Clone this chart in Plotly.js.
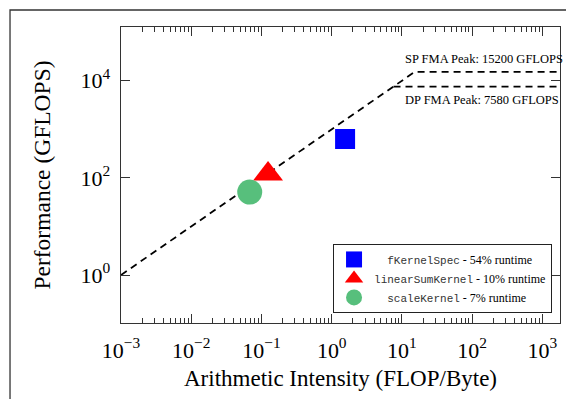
<!DOCTYPE html>
<html>
<head>
<meta charset="utf-8">
<script src="https://cdn.plot.ly/plotly-3.0.1.min.js"></script>
<style>html,body{margin:0;padding:0;background:#fff;}#chart{width:566px;height:399px;}</style>
</head>
<body>
<div id="chart"></div>
<script>
// ---- data ----
const kernelNames = ["fKernelSpec", "linearSumKernel", "scaleKernel"];
const runtimeShare = ["54%", "10%", "7%"];
const intensity = [1.55, 0.124, 0.068];        // FLOP/Byte
const performance = [630, 120, 51];            // GFLOPS
const memBandwidth = 1000;                     // GB/s (roofline slope)
const spPeak = 15200;                          // GFLOPS
const dpPeak = 7580;                           // GFLOPS
const xTickVals = [1e-3, 1e-2, 1e-1, 1e0, 1e1, 1e2, 1e3];
const xTickText = ["10<sup>−3</sup>", "10<sup>−2</sup>", "10<sup>−1</sup>", "10<sup>0</sup>", "10<sup>1</sup>", "10<sup>2</sup>", "10<sup>3</sup>"];
const yTickVals = [1e0, 1e2, 1e4];
const yTickText = ["10<sup>0</sup>", "10<sup>2</sup>", "10<sup>4</sup>"];

// ---- styles ----
const xRangeLog = [-3, 3.25];
const yRangeLog = [-0.988, 5.105];
const xMin = Math.pow(10, xRangeLog[0]);
const xMax = Math.pow(10, xRangeLog[1]);
const markerStyles = [
  {symbol: "square", color: "#0000ff", size: 20},
  {symbol: "triangle-up", color: "#ff0000", size: 26},
  {symbol: "circle", color: "#57bf7c", size: 25}
];
const namePad = ["\u00a0\u00a0", "", "\u00a0\u00a0"];
const serif = "Liberation Serif, Times New Roman, serif";
const mono = "Liberation Mono, DejaVu Sans Mono, monospace";
const axisColor = "#333";

const traces = [];
// roofline (SP)
traces.push({
  x: [xMin, spPeak / memBandwidth, xMax],
  y: [memBandwidth * xMin, spPeak, spPeak],
  mode: "lines", showlegend: false, hoverinfo: "skip",
  line: {color: "#000", width: 1.8, dash: "7px,5px"}
});
// DP ceiling
traces.push({
  x: [dpPeak / memBandwidth, xMax],
  y: [dpPeak, dpPeak],
  mode: "lines", showlegend: false, hoverinfo: "skip",
  line: {color: "#000", width: 1.8, dash: "7px,5px"}
});
kernelNames.forEach((name, i) => {
  traces.push({
    x: [intensity[i]], y: [performance[i]],
    mode: "markers",
    name: '<span style="font-family:' + mono + ';font-size:11px;fill:#333">' + namePad[i] + name + '</span> - ' + runtimeShare[i] + ' runtime',
    marker: {symbol: markerStyles[i].symbol, color: markerStyles[i].color, size: markerStyles[i].size, line: {width: 0}}
  });
});

const layout = {
  width: 566, height: 399,
  margin: {l: 121, r: 6, t: 27, b: 76},
  paper_bgcolor: "#fff", plot_bgcolor: "#fff",
  font: {family: serif, color: "#000"},
  showlegend: true,
  legend: {
    x: 0.483, y: 0.034, xanchor: "left", yanchor: "bottom",
    bgcolor: "#fff", bordercolor: "#222", borderwidth: 1,
    font: {family: serif, size: 12, color: "#000"},
    tracegroupgap: 0, itemsizing: "trace", itemwidth: 30
  },
  xaxis: {
    type: "log", range: xRangeLog,
    tickvals: xTickVals, ticktext: xTickText,
    ticks: "inside", ticklen: 9, tickcolor: axisColor, tickwidth: 1,
    minor: {ticks: "inside", ticklen: 5, dtick: "D1", tickcolor: axisColor, tickwidth: 1, showgrid: false},
    showline: true, linecolor: axisColor, linewidth: 1.3, mirror: "ticks",
    showgrid: false, zeroline: false,
    ticklabelstandoff: 7,
    tickfont: {family: serif, size: 22, color: "#000"},
    title: {text: "Arithmetic Intensity (FLOP/Byte)", font: {family: serif, size: 23, color: "#000"}, standoff: 8}
  },
  yaxis: {
    type: "log", range: yRangeLog,
    tickvals: yTickVals, ticktext: yTickText,
    ticks: "inside", ticklen: 9, tickcolor: axisColor, tickwidth: 1,
    showline: true, linecolor: axisColor, linewidth: 1.3, mirror: "ticks",
    showgrid: false, zeroline: false,
    ticklabelstandoff: 5,
    tickfont: {family: serif, size: 22, color: "#000"},
    title: {text: "Performance (GFLOPS)", font: {family: serif, size: 23.5, color: "#000"}, standoff: 23}
  },
  annotations: [
    {xref: "x", yref: "y", x: 1.02, y: 4.446, xanchor: "left", yanchor: "middle", showarrow: false,
     text: "SP FMA Peak: " + spPeak + " GFLOPS", font: {family: serif, size: 12.5, color: "#000"}},
    {xref: "x", yref: "y", x: 1.02, y: 3.60, xanchor: "left", yanchor: "middle", showarrow: false,
     text: "DP FMA Peak: " + dpPeak + " GFLOPS", font: {family: serif, size: 12.5, color: "#000"}}
  ],
  shapes: [
    {type: "rect", xref: "paper", yref: "paper", x0: -0.2528, x1: 1.2, y0: -0.4, y1: 1.0574,
     line: {color: "#333", width: 1.3}, fillcolor: "rgba(0,0,0,0)", layer: "below"}
  ]
};

Plotly.newPlot("chart", traces, layout, {displayModeBar: false, staticPlot: true});
</script>
</body>
</html>
